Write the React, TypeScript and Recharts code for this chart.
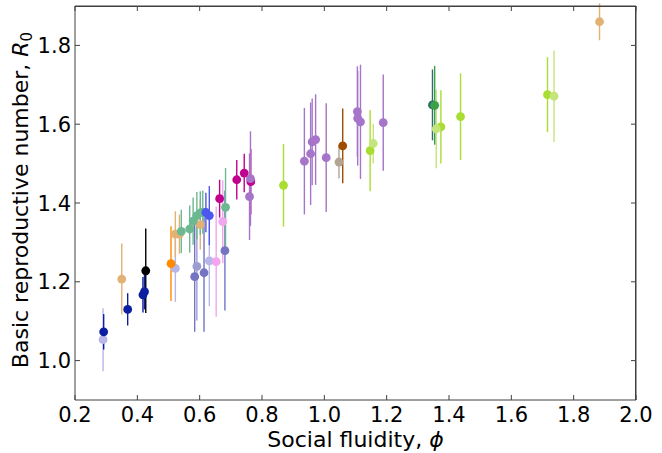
import React from "react";
import {
  ErrorBar,
  Label,
  Scatter,
  ScatterChart,
  XAxis,
  YAxis,
} from "recharts";

// social fluidity (phi), R0 and its error, one entry per species/network
const phi = [
  0.29, 0.522, 0.631,
  0.292, 0.369, 0.418, 0.423,
  0.35, 0.522, 0.535, 0.602, 1.883,
  0.427,
  0.508,
  0.584, 0.614, 0.681,
  0.591,
  0.653, 0.674,
  0.541, 0.568, 0.579, 0.591, 0.602, 0.61, 0.683,
  0.62, 0.631,
  0.664, 0.719, 0.743, 0.764,
  0.76, 0.763, 0.936, 0.956, 0.961, 0.972, 1.006, 1.106, 1.107, 1.116, 1.189,
  0.869, 1.147, 1.374, 1.437, 1.716,
  1.157, 1.359, 1.737,
  1.059,
  1.047,
  1.347,
  1.354,
];
const r0 = [
  1.053, 1.234, 1.253,
  1.073, 1.13, 1.167, 1.175,
  1.207, 1.321, 1.321, 1.345, 1.86,
  1.228,
  1.246,
  1.213, 1.223, 1.279,
  1.239,
  1.251, 1.353,
  1.328, 1.334, 1.354, 1.368, 1.375, 1.377, 1.389,
  1.376, 1.368,
  1.411, 1.459, 1.476, 1.454,
  1.416, 1.462, 1.506, 1.525, 1.555, 1.561, 1.515, 1.632, 1.615, 1.606, 1.604,
  1.445, 1.533, 1.593, 1.619, 1.675,
  1.551, 1.588, 1.671,
  1.545,
  1.504,
  1.649,
  1.648,
];
const r0Err = [
  0.08, 0.085, 0.115,
  0.045, 0.041, 0.045, 0.045,
  0.09, 0.058, 0.05, 0.063, 0.047,
  0.107,
  0.095,
  0.14, 0.15, 0.152,
  0.137,
  0.14, 0.105,
  0.055, 0.06, 0.06, 0.06, 0.055, 0.055, 0.1,
  0.05, 0.075,
  0.048, 0.05, 0.049, 0.083,
  0.11, 0.12, 0.135, 0.13, 0.11, 0.115, 0.138, 0.115, 0.12, 0.145, 0.122,
  0.105, 0.103, 0.093, 0.11, 0.095,
  0.05, 0.1, 0.116,
  0.095,
  0.042,
  0.09,
  0.1,
];
const groupOf = [
  "G1", "G1", "G1",
  "G2", "G2", "G2", "G2",
  "G3", "G3", "G3", "G3", "G3",
  "G4",
  "G5",
  "G6", "G6", "G6",
  "G7",
  "G8", "G8",
  "G9", "G9", "G9", "G9", "G9", "G9", "G9",
  "G10", "G10",
  "G11", "G11", "G11", "G11",
  "G12", "G12", "G12", "G12", "G12", "G12", "G12", "G12", "G12", "G12", "G12",
  "G13", "G13", "G13", "G13", "G13",
  "G14", "G14", "G14",
  "G15",
  "G16",
  "G17",
  "G18",
];
const groups = ["G1", "G2", "G3", "G4", "G5", "G6", "G7", "G8", "G9", "G10",
  "G11", "G12", "G13", "G14", "G15", "G16", "G17", "G18"];

const xTicks = [0.2, 0.4, 0.6, 0.8, 1.0, 1.2, 1.4, 1.6, 1.8, 2.0];
const yTicks = [1.0, 1.2, 1.4, 1.6, 1.8];

const colors: Record<string, string> = {
  G1: "#b6b6e8",
  G2: "#0b1fa0",
  G3: "#e2b274",
  G4: "#000000",
  G5: "#ff8c00",
  G6: "#7474c2",
  G7: "#9c9cd4",
  G8: "#f2a6ee",
  G9: "#6cb890",
  G10: "#4b57f0",
  G11: "#c2008e",
  G12: "#a674c8",
  G13: "#aadd33",
  G14: "#c4e47c",
  G15: "#a04c00",
  G16: "#b4a494",
  G17: "#2e6e6a",
  G18: "#3ca048",
};

const W = 662;
const H = 453;
const margin = { top: 5, right: 25, bottom: 3, left: 15 };
const Y_AXIS_W = 60;
const X_AXIS_H = 50;

const AX = "#404040";
const FONT = "DejaVu Sans, sans-serif";

// inward ticks, matplotlib style
const BottomTick = (p: any) => (
  <g>
    <line x1={p.x} x2={p.x} y1={p.y} y2={p.y - 5} stroke={AX} />
    <text x={p.x} y={p.y + 22} textAnchor="middle" fontSize={21} fontFamily={FONT} fill="#000">
      {Number(p.payload.value).toFixed(1)}
    </text>
  </g>
);

const LeftTick = (p: any) => (
  <g>
    <line x1={p.x} x2={p.x + 5} y1={p.y} y2={p.y} stroke={AX} />
    <text x={p.x - 4} y={p.y + 7.5} textAnchor="end" fontSize={21} fontFamily={FONT} fill="#000">
      {Number(p.payload.value).toFixed(1)}
    </text>
  </g>
);

const TopTick = (p: any) => (
  <line x1={p.x} x2={p.x} y1={p.y} y2={p.y + 5} stroke={AX} />
);

const RightTick = (p: any) => (
  <line x1={p.x} x2={p.x - 5} y1={p.y} y2={p.y} stroke={AX} />
);

const dot = (fill: string) => (p: any) => (
  <circle cx={p.cx} cy={p.cy} r={4.4} fill={fill} />
);

const hidden = () => <g />;

export default function App() {
  const series = groups.map((g) => ({
    g,
    data: phi
      .map((x, i) => ({ x, y: r0[i], err: r0Err[i], g: groupOf[i] }))
      .filter((d) => d.g === g),
  }));

  // plot frame (top and right spines) drawn as a plain box over the chart
  const plotLeft = margin.left + Y_AXIS_W;
  const plotTop = margin.top + 1;
  const plotW = W - margin.right - 1 - plotLeft;
  const plotH = H - margin.bottom - X_AXIS_H - plotTop;

  return (
    <div style={{ position: "relative", width: W, height: H }}>
      <style>{"body { margin: 0; background: #fff; }"}</style>
      <ScatterChart width={W} height={H} margin={margin}>
        <XAxis
          type="number"
          dataKey="x"
          domain={[0.2, 2.0]}
          ticks={xTicks}
          allowDataOverflow
          height={X_AXIS_H}
          tickSize={0}
          tickMargin={0}
          tickLine={false}
          axisLine={{ stroke: AX }}
          tick={BottomTick}
          interval={0}
        >
          <Label
            content={({ viewBox }: any) => (
              <text
                x={viewBox.x + viewBox.width / 2}
                y={viewBox.y + 47}
                textAnchor="middle"
                fontSize={22}
                fontFamily={FONT}
                fill="#000"
              >
                Social fluidity, <tspan fontStyle="italic">ϕ</tspan>
              </text>
            )}
          />
        </XAxis>
        <XAxis
          xAxisId="top"
          orientation="top"
          type="number"
          dataKey="x"
          domain={[0.2, 2.0]}
          allowDataOverflow
          height={1}
          tickSize={0}
          tickMargin={0}
          tickLine={false}
          axisLine={{ stroke: AX }}
          tick={TopTick}
          ticks={xTicks}
          interval={0}
        />
        <YAxis
          type="number"
          dataKey="y"
          domain={[0.9, 1.9]}
          ticks={yTicks}
          allowDataOverflow
          width={Y_AXIS_W}
          tickSize={0}
          tickMargin={0}
          tickLine={false}
          axisLine={{ stroke: AX }}
          tick={LeftTick}
          interval={0}
        >
          <Label
            content={({ viewBox }: any) => {
              const x = viewBox.x + 13;
              const y = viewBox.y + viewBox.height / 2 - 3;
              return (
                <text
                  x={x}
                  y={y}
                  transform={`rotate(-90 ${x} ${y})`}
                  textAnchor="middle"
                  fontSize={22}
                  fontFamily={FONT}
                  fill="#000"
                >
                  Basic reproductive number, <tspan fontStyle="italic">R</tspan>
                  <tspan fontSize={15} dy={4}>0</tspan>
                </text>
              );
            }}
          />
        </YAxis>
        <YAxis
          yAxisId="right"
          orientation="right"
          type="number"
          dataKey="y"
          domain={[0.9, 1.9]}
          allowDataOverflow
          width={1}
          tickSize={0}
          tickMargin={0}
          tickLine={false}
          axisLine={{ stroke: AX }}
          tick={RightTick}
          ticks={yTicks}
          interval={0}
        />
        <Scatter
          xAxisId="top"
          yAxisId="right"
          data={series[0].data}
          shape={hidden}
          isAnimationActive={false}
        />
        {series.map((s) => (
          <Scatter
            key={s.g}
            data={s.data}
            fill={colors[s.g]}
            shape={dot(colors[s.g])}
            isAnimationActive={false}
          >
            <ErrorBar
              dataKey="err"
              direction="y"
              width={0}
              stroke={colors[s.g]}
              strokeWidth={1.4}
              isAnimationActive={false}
            />
          </Scatter>
        ))}
      </ScatterChart>
      <div
        style={{
          position: "absolute",
          left: plotLeft,
          top: plotTop - 0.5,
          width: plotW,
          height: plotH,
          borderTop: `1px solid ${AX}`,
          borderRight: `1px solid ${AX}`,
          boxSizing: "border-box",
          pointerEvents: "none",
        }}
      />
    </div>
  );
}
